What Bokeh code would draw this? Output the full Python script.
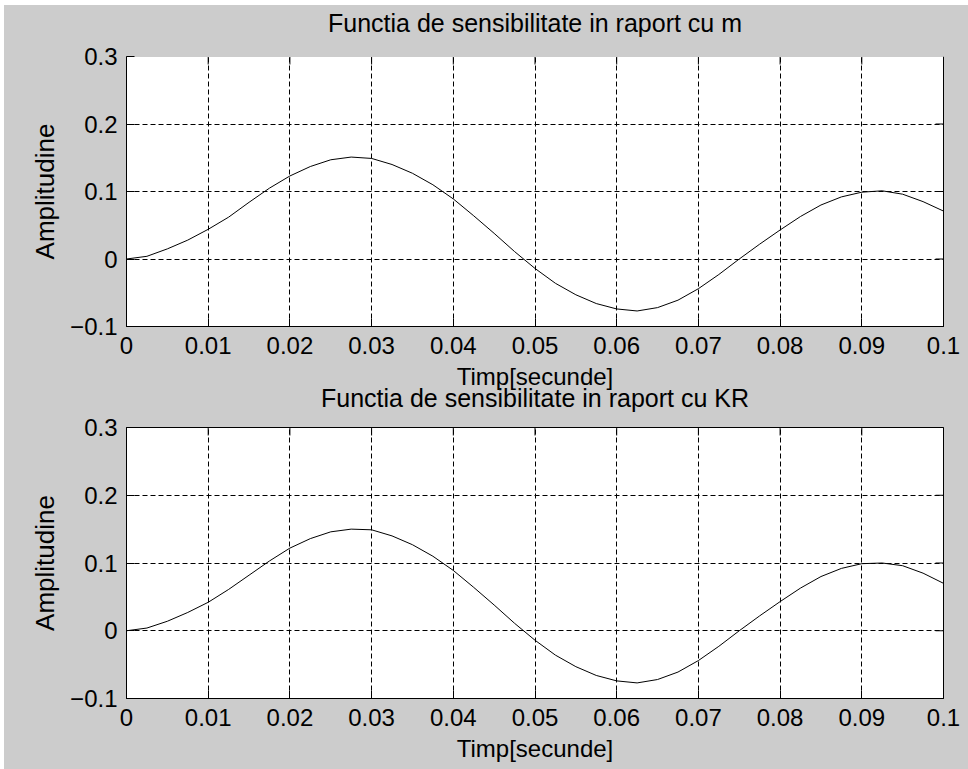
import math
from bokeh.plotting import figure
from bokeh.models import Range1d, FixedTicker, Title, LinearAxis, CustomJSTickFormatter
from bokeh.layouts import column
from bokeh.embed import file_html
from bokeh.resources import INLINE

# ---- data ----
time_s = [0.0, 0.0025, 0.005, 0.0075, 0.01, 0.0125, 0.015, 0.0175, 0.02, 0.0225,
          0.025, 0.0275, 0.03, 0.0325, 0.035, 0.0375, 0.04, 0.0425, 0.045, 0.0475,
          0.05, 0.0525, 0.055, 0.0575, 0.06, 0.0625, 0.065, 0.0675, 0.07, 0.0725,
          0.075, 0.0775, 0.08, 0.0825, 0.085, 0.0875, 0.09, 0.0925, 0.095, 0.0975, 0.1]

sens_m = [0.000, 0.004, 0.015, 0.028, 0.044, 0.062, 0.084, 0.105, 0.123, 0.137,
          0.147, 0.151, 0.149, 0.140, 0.127, 0.110, 0.089, 0.064, 0.038, 0.011,
          -0.014, -0.036, -0.053, -0.066, -0.074, -0.077, -0.072, -0.061, -0.044, -0.023,
          0.000, 0.022, 0.043, 0.063, 0.080, 0.092, 0.099, 0.101, 0.096, 0.085, 0.071]

sens_kr = [0.000, 0.004, 0.014, 0.027, 0.042, 0.061, 0.082, 0.103, 0.122, 0.136,
           0.146, 0.150, 0.149, 0.140, 0.127, 0.110, 0.089, 0.064, 0.038, 0.011,
           -0.014, -0.036, -0.053, -0.066, -0.074, -0.077, -0.072, -0.061, -0.044, -0.023,
           0.000, 0.022, 0.043, 0.063, 0.080, 0.092, 0.099, 0.100, 0.096, 0.085, 0.070]

x_ticks = [0.0, 0.01, 0.02, 0.03, 0.04, 0.05, 0.06, 0.07, 0.08, 0.09, 0.1]
y_ticks = [-0.1, 0.0, 0.1, 0.2, 0.3]

title_m = "Functia de sensibilitate in raport cu m"
title_kr = "Functia de sensibilitate in raport cu KR"
x_label = "Timp[secunde]"
y_label = "Amplitudine"

FONT = "Liberation Sans"
BG = "#cccccc"


def style_axis(ax, ticks, standoff):
    ax.ticker = FixedTicker(ticks=ticks)
    ax.major_tick_in = 8
    ax.major_tick_out = 0
    ax.minor_tick_line_color = None
    ax.axis_line_color = "black"
    ax.major_tick_line_color = "black"
    ax.major_label_text_font = FONT
    ax.major_label_text_color = "black"
    ax.major_label_text_font_size = "24px"
    ax.major_label_standoff = standoff
    ax.axis_label_text_font = FONT
    ax.axis_label_text_font_style = "normal"
    ax.axis_label_text_color = "black"


def make_panel(series, title, height, top, bottom):
    p = figure(width=964, height=height, output_backend="svg", toolbar_location=None,
               title=title, x_range=Range1d(x_ticks[0], x_ticks[-1]),
               y_range=Range1d(y_ticks[0], y_ticks[-1]),
               min_border_left=122, min_border_right=25,
               min_border_top=top, min_border_bottom=bottom,
               background_fill_color="white", border_fill_color=BG,
               outline_line_color="black")
    xax = p.below[0]
    yax = p.left[0]
    style_axis(xax, x_ticks, 10)
    style_axis(yax, y_ticks, 9)
    xax.axis_label = x_label
    xax.axis_label_text_font_size = "24px"
    xax.axis_label_standoff = 6
    yax.axis_label = y_label
    yax.axis_label_text_font_size = "26px"
    yax.axis_label_standoff = 7

    p.xgrid[0].ticker = FixedTicker(ticks=x_ticks)
    p.ygrid[0].ticker = FixedTicker(ticks=y_ticks)
    for g in (p.xgrid[0], p.ygrid[0]):
        g.grid_line_color = "black"
        g.grid_line_dash = "5 3"
        g.grid_line_width = 1

    if p.title is not None:
        p.title.text_font = FONT
        p.title.text_font_size = "25px"
        p.title.text_font_style = "normal"
        p.title.text_color = "black"
        p.title.align = "center"
        p.title.standoff = 2
        # spacer axis drawn in the border colour, with blank labels, that lifts the title
        spacer = LinearAxis(ticker=FixedTicker(ticks=x_ticks), major_tick_out=19,
                            major_tick_in=0, axis_line_color=BG, major_tick_line_color=BG,
                            minor_tick_line_color=None, major_label_standoff=0,
                            major_label_text_font_size="1px",
                            formatter=CustomJSTickFormatter(code="return ''"))
        p.add_layout(spacer, "above")

    # inward tick marks on the top and right edges (half of each dash is clipped by the frame)
    p.scatter(x_ticks, [y_ticks[-1]] * len(x_ticks), marker="dash", size=16,
              angle=math.pi / 2, line_color="black", line_width=1)
    p.scatter([x_ticks[-1]] * len(y_ticks), y_ticks, marker="dash", size=16,
              line_color="black", line_width=1)

    p.line(time_s, series, line_color="black", line_width=1)
    return p


p1 = make_panel(sens_m, title_m, 408, 50, 87)
# title of the lower subplot: it overlaps the x label above it, so it lives below the upper axes
kr_title = Title(text=title_kr, align="center", text_font=FONT, text_font_size="25px",
                 text_font_style="normal", text_color="black", standoff=-21)
p1.add_layout(kr_title, "below")

p2 = make_panel(sens_kr, None, 356, 14, 71)

layout = column(p1, p2, spacing=0, margin=(5, 0, 0, 4),
                styles={"background-color": BG})

open("out.html", "w").write(file_html(layout, INLINE))
